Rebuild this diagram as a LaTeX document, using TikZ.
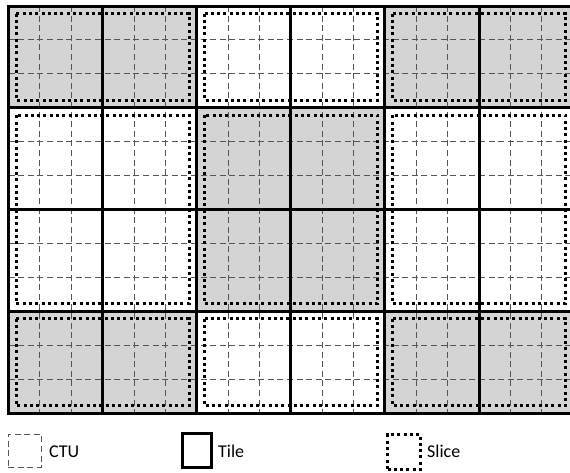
\documentclass[tikz,border=0pt]{standalone}
\usepackage{fontspec}
\setmainfont{Carlito}
\definecolor{tilegray}{RGB}{212,212,212}
\definecolor{ctugray}{RGB}{85,85,85}
\tikzset{
  ctuline/.style={draw=ctugray, line width=0.9pt, dash pattern=on 6pt off 3.6pt},
  tileline/.style={draw=black, line width=3pt, line cap=rect},
  sliceline/.style={draw=black, line width=3pt, dash pattern=on 3pt off 3.3pt},
  legendtext/.style={font=\fontsize{18}{20}\selectfont, anchor=west, inner sep=0pt},
}
\begin{document}
\begin{tikzpicture}[x=1pt,y=-1pt]
\useasboundingbox (0,0) rectangle (570,472);
\begin{scope}
\clip (0,0) rectangle (570,472);
% gray tiles
\foreach \c in {0,1,4,5} {
  \fill[tilegray] (8.5+94.1*\c,6) rectangle (8.5+94.1*\c+94.1,107.75);
  \fill[tilegray] (8.5+94.1*\c,311.25) rectangle (8.5+94.1*\c+94.1,413);
}
\fill[tilegray] (196.7,107.75) rectangle (384.9,311.25);
% CTU grid
\foreach \i in {1,...,17} \draw[ctuline] (8.5+31.3667*\i,6) -- (8.5+31.3667*\i,413);
\foreach \j in {1,...,11} \draw[ctuline] (8.5,6+33.9167*\j) -- (573.1,6+33.9167*\j);
% slices
\foreach \x in {8.5,196.7,384.9} {
  \draw[sliceline] (\x+7.5,13.5) rectangle (\x+180.7,100.25);
  \draw[sliceline] (\x+7.5,115.25) rectangle (\x+180.7,303.75);
  \draw[sliceline] (\x+7.5,318.75) rectangle (\x+180.7,405.5);
}
% tiles
\foreach \i in {0,...,6} \draw[tileline] (8.5+94.1*\i,6) -- (8.5+94.1*\i,413);
\foreach \j in {0,...,4} \draw[tileline] (8.5,6+101.75*\j) -- (573.1,6+101.75*\j);
\end{scope}
% legend
\node[draw=ctugray, line width=0.9pt, dash pattern=on 6pt off 3.6pt, minimum width=33pt, minimum height=33pt, inner sep=0pt, outer sep=0pt] (ctubox) at (24.5,450.5) {};
\node[legendtext] (ctutext) at (49,452) {CTU};
\node[draw=black, line width=3pt, minimum width=29pt, minimum height=34pt, inner sep=0pt, outer sep=0pt] (tilebox) at (197,450.5) {};
\node[legendtext] (tiletext) at (218,451.5) {Tile};
\node[draw=black, line width=3pt, dash pattern=on 3pt off 3.3pt, minimum width=33pt, minimum height=35pt, inner sep=0pt, outer sep=0pt] (slicebox) at (404,452) {};
\node[legendtext] (slicetext) at (427,451.5) {Slice};
\end{tikzpicture}
\end{document}
